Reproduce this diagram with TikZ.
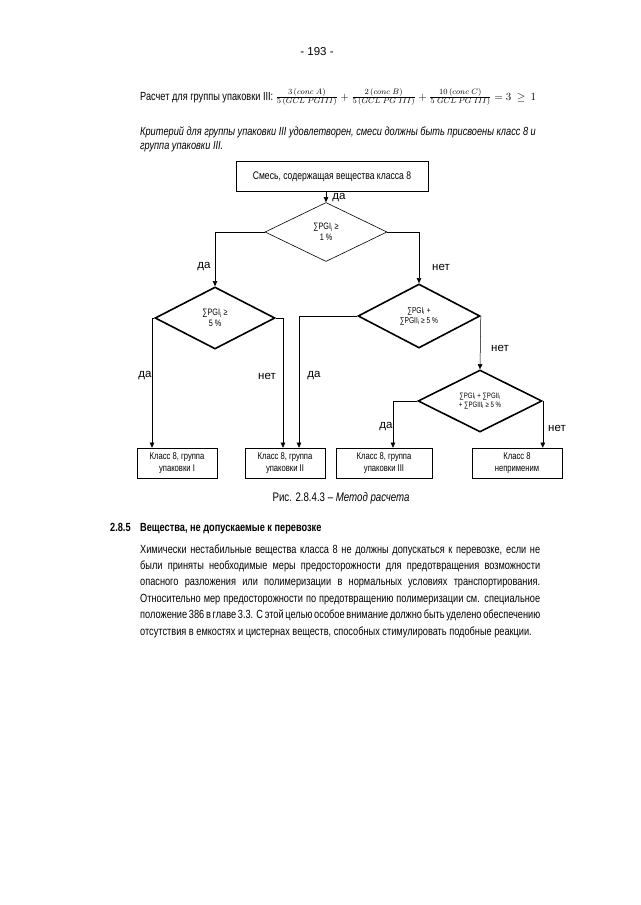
\documentclass[tikz,border=0pt]{standalone}
\usepackage{amsmath}
\usepackage{fontspec}
\setmainfont{Liberation Sans}
\newfontfamily\narrowfont[FakeStretch=0.78]{Liberation Sans}
\usetikzlibrary{arrows.meta,positioning,calc,shapes.geometric}

\begin{document}
\begin{tikzpicture}[x=1pt,y=-1pt,
  txt/.style={font=\narrowfont\fontsize{11.8}{13}\selectfont, inner sep=0pt},
  box/.style={draw, line width=0.6pt, minimum height=30pt, inner sep=1pt,
    align=center, font=\narrowfont\fontsize{9.8}{11.2}\selectfont},
  cond/.style={draw, diamond, aspect=2, inner sep=0pt, align=center,
    font=\narrowfont\fontsize{9.3}{10.5}\selectfont},
  heavy/.style={line width=1.6pt},
  arr/.style={-{Triangle[length=5pt,width=4.5pt]}, line width=0.5pt},
  ans/.style={font=\fontsize{11.5}{13}\selectfont, inner sep=0pt}]
  \fill[white] (0,0) rectangle (640,905);
  \useasboundingbox (0,0) rectangle (640,905);

  % page head and text above the chart
  \node[ans] (page) at (317,52) {- 193 -};
  \node[txt, anchor=base west] (calc) at (140,100)
    {Расчет для группы упаковки III: \fontsize{10.8}{12}\selectfont$\tfrac{3\,(conc\ A)}{5\,(GCL\ PGIII)}+\tfrac{2\,(conc\ B)}{5\,(GCL\ PG\ III)}+\tfrac{10\,(conc\ C)}{5\ GCL\ PG\ III)}=3\ \geq\ 1$};
  \node[txt, anchor=base west, font=\narrowfont\itshape\fontsize{11.8}{13}\selectfont] (crit1) at (140,135)
    {Критерий для группы упаковки III удовлетворен, смеси должны быть присвоены класс 8 и};
  \node[txt, anchor=base west, font=\narrowfont\itshape\fontsize{11.8}{13}\selectfont] (crit2) at (140,149)
    {группа упаковки III.};

  % chart
  \node[box, minimum width=192pt, font=\narrowfont\fontsize{11}{12}\selectfont] (mix) at (332,176.5)
    {Смесь, содержащая вещества класса 8};
  \node[cond, minimum width=122pt, minimum height=59pt, line width=0.6pt] (d1) at (326,232)
    {∑PGI\textsubscript{i} ≥\\1 \%};
  \node[cond, heavy, minimum width=120pt, minimum height=62pt] (d2) at (215,318)
    {∑PGI\textsubscript{i} ≥\\5 \%};
  \node[cond, heavy, minimum width=122pt, minimum height=64pt,
    font=\narrowfont\fontsize{8.5}{10}\selectfont] (d3) at (419,316)
    {∑PGI\textsubscript{i} +\\∑PGII\textsubscript{i} ≥ 5 \%};
  \node[cond, heavy, minimum width=124pt, minimum height=62pt,
    font=\narrowfont\fontsize{7.8}{9}\selectfont] (d4) at (480,401)
    {∑PGI\textsubscript{i} + ∑PGII\textsubscript{i}\\+ ∑PGIII\textsubscript{i} ≥ 5 \%};

  \node[box, minimum width=80pt] (pg1) at (177,463) {Класс 8, группа\\упаковки I};
  \node[box, minimum width=80pt] (pg2) at (285,463) {Класс 8, группа\\упаковки II};
  \node[box, minimum width=96pt] (pg3) at (384,463) {Класс 8, группа\\упаковки III};
  \node[box, minimum width=90pt] (na) at (517,463) {Класс 8\\неприменим};

  \draw[arr] (mix.south -| d1.north) -- (d1.north);
  \draw[arr] (d1.west) -| (d2.north);
  \draw[arr] (d1.east) -| (d3.north);
  \draw[arr] (d2.west) -| ([xshift=-25pt]pg1.north);
  \draw[arr] (d2.east) -| ([xshift=-2pt]pg2.north);
  \draw[arr] (d3.west) -| ([xshift=14pt]pg2.north);
  \draw[arr] (d3.east) -- (d4.north);
  \draw[arr] (d4.west) -| ([xshift=9pt]pg3.north);
  \draw[arr] (d4.east) -- (d4.east |- na.north);

  \node[ans] (y0) at (339,198) {да};
  \node[ans] (y1) at (204,267) {да};
  \node[ans] (n1) at (441,267) {нет};
  \node[ans] (y2) at (145,376) {да};
  \node[ans] (n2) at (267,376) {нет};
  \node[ans] (y3) at (314,376) {да};
  \node[ans] (n3) at (500,348) {нет};
  \node[ans] (y4) at (386,427) {да};
  \node[ans] (n4) at (557,428) {нет};

  % caption and section text
  \node[txt, font=\narrowfont\fontsize{12.4}{13}\selectfont] (cap) at (341,498)
    {Рис. 2.8.4.3 – \textit{Метод расчета}};
  \node[txt, anchor=base west, font=\narrowfont\bfseries\fontsize{11.8}{13}\selectfont] (num) at (110,531) {2.8.5};
  \node[txt, anchor=base west, font=\narrowfont\bfseries\fontsize{11.8}{13}\selectfont] (head) at (140,531)
    {Вещества, не допускаемые к перевозке};
  \foreach \txt [count=\i] in {
    {Химически нестабильные вещества класса 8 не должны допускаться к перевозке, если не},
    {были приняты необходимые меры предосторожности для предотвращения возможности},
    {опасного разложения или полимеризации в нормальных условиях транспортирования.},
    {Относительно мер предосторожности по предотвращению полимеризации см. специальное},
    {положение 386 в главе 3.3. С этой целью особое внимание должно быть уделено обеспечению}} {
    \pgfmathsetmacro{\by}{553+(\i-1)*16.4}
    \node[txt, anchor=base west] (p\i) at (140,\by) {\makebox[400pt][s]{\txt}};
  }
  \node[txt, anchor=base west] (p6) at (140,635)
    {отсутствия в емкостях и цистернах веществ, способных стимулировать подобные реакции.};
\end{tikzpicture}
\end{document}
